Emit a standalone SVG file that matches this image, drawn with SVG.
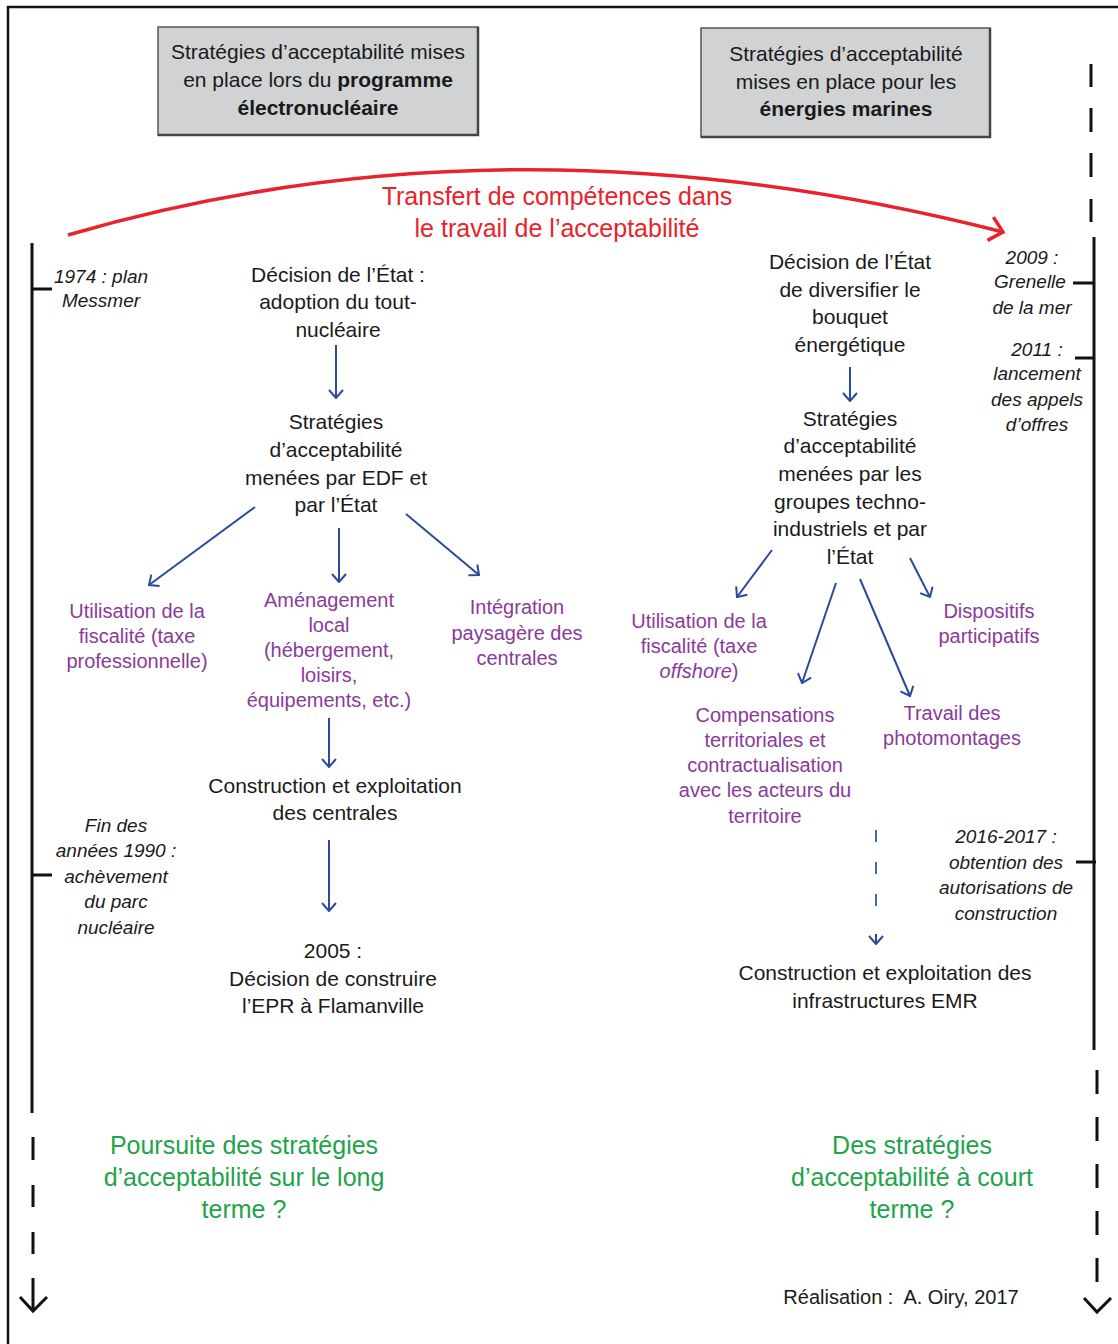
<svg xmlns="http://www.w3.org/2000/svg" width="1118" height="1344" viewBox="0 0 1118 1344">
<defs>
<style>
text{font-family:"Liberation Sans",Arial,sans-serif;text-anchor:middle}
.bx{font-size:21px;fill:#1a1a1a}
.b{font-weight:bold}
.k{font-size:21px;fill:#1a1a1a}
.p{font-size:20px;fill:#8a3a9a}
.g{font-size:25px;fill:#22a34b}
.r{font-size:25px;fill:#e8232b}
.i{font-size:19px;font-style:italic;fill:#1a1a1a}
.bl{stroke:#2b4a9b;stroke-width:2;fill:none;marker-end:url(#ab)}
.tl{stroke:#111;stroke-width:3;fill:none}
</style>
<marker id="ab" viewBox="0 0 10 16" refX="9" refY="8" markerWidth="10" markerHeight="16" markerUnits="userSpaceOnUse" orient="auto"><path d="M1,1 L9,8 L1,15" fill="none" stroke="#2b4a9b" stroke-width="2"/></marker>
<marker id="ar" viewBox="0 0 16 26" refX="14" refY="13" markerWidth="16" markerHeight="26" markerUnits="userSpaceOnUse" orient="auto"><path d="M1,1 L14,13 L1,25" fill="none" stroke="#e8232b" stroke-width="3.5"/></marker>
</defs>
<rect x="0" y="0" width="1118" height="1344" fill="#fff"/>
<rect x="8" y="7" width="1130" height="1360" fill="none" stroke="#111" stroke-width="2.5"/>

<g id="box-left">
<rect x="158" y="27" width="320" height="108" fill="#d1d2d4" stroke="#555" stroke-width="1.5"/>
<path d="M158,135H478V27" fill="none" stroke="#444" stroke-width="2.5"/>
<text class="bx" x="318" y="59">Stratégies d’acceptabilité mises</text>
<text class="bx" x="318" y="87">en place lors du <tspan class="b">programme</tspan></text>
<text class="bx b" x="318" y="115">électronucléaire</text>
</g>
<g id="box-right">
<rect x="701" y="28" width="289" height="109" fill="#d1d2d4" stroke="#555" stroke-width="1.5"/>
<path d="M701,137H990V28" fill="none" stroke="#444" stroke-width="2.5"/>
<text class="bx" x="846" y="61">Stratégies d’acceptabilité</text>
<text class="bx" x="846" y="89">mises en place pour les</text>
<text class="bx b" x="846" y="116">énergies marines</text>
</g>

<g id="transfer">
<path d="M68,235 Q510,106 1003,232" fill="none" stroke="#e8232b" stroke-width="3.5" marker-end="url(#ar)"/>
<text class="r" x="557" y="205">Transfert de compétences dans</text>
<text class="r" x="557" y="237">le travail de l’acceptabilité</text>
</g>

<g id="timeline-left">
<line class="tl" x1="32" y1="243" x2="32" y2="1113"/>
<path class="tl" d="M33,1137V1160M33,1185V1207M33,1232V1254M33,1278V1310"/>
<polyline class="tl" points="20,1297 33,1311 47,1297"/>
<line class="tl" x1="32" y1="289" x2="52" y2="289" stroke-width="2"/>
<line class="tl" x1="32" y1="875" x2="52" y2="875" stroke-width="2"/>
<text class="i" x="101" y="283">1974 : plan</text>
<text class="i" x="101" y="307">Messmer</text>
<text class="i" x="116" y="832">Fin des</text>
<text class="i" x="116" y="857">années 1990 :</text>
<text class="i" x="116" y="883">achèvement</text>
<text class="i" x="116" y="908">du parc</text>
<text class="i" x="116" y="934">nucléaire</text>
</g>

<g id="timeline-right">
<path class="tl" d="M1091,64V87M1091,108V132M1091,153V177M1091,199V222"/>
<line class="tl" x1="1094" y1="237" x2="1094" y2="1050"/>
<path class="tl" d="M1097,1070V1094M1097,1117V1141M1097,1164V1188M1097,1211V1235M1097,1258V1282"/>
<polyline class="tl" points="1084,1298 1097,1312 1111,1298"/>
<line class="tl" x1="1073" y1="283" x2="1094" y2="283" stroke-width="2"/>
<line class="tl" x1="1075" y1="358" x2="1094" y2="358" stroke-width="2"/>
<line class="tl" x1="1076" y1="862" x2="1096" y2="862" stroke-width="2"/>
<text class="i" x="1032" y="264">2009 :</text>
<text class="i" x="1030" y="288">Grenelle</text>
<text class="i" x="1032" y="314">de la mer</text>
<text class="i" x="1037" y="356">2011 :</text>
<text class="i" x="1037" y="380">lancement</text>
<text class="i" x="1037" y="406">des appels</text>
<text class="i" x="1037" y="431">d’offres</text>
<text class="i" x="1006" y="843">2016-2017 :</text>
<text class="i" x="1006" y="869">obtention des</text>
<text class="i" x="1006" y="894">autorisations de</text>
<text class="i" x="1006" y="920">construction</text>
</g>

<g id="n-decision-left">
<text class="k" x="338" y="282">Décision de l’État :</text>
<text class="k" x="338" y="309">adoption du tout-</text>
<text class="k" x="338" y="337">nucléaire</text>
</g>
<g id="n-strat-left">
<text class="k" x="336" y="429">Stratégies</text>
<text class="k" x="336" y="457">d’acceptabilité</text>
<text class="k" x="336" y="485">menées par EDF et</text>
<text class="k" x="336" y="512">par l’État</text>
</g>
<g id="n-fisc-left">
<text class="p" x="137" y="618">Utilisation de la</text>
<text class="p" x="137" y="643">fiscalité (taxe</text>
<text class="p" x="137" y="668">professionnelle)</text>
</g>
<g id="n-amenagement">
<text class="p" x="329" y="607">Aménagement</text>
<text class="p" x="329" y="632">local</text>
<text class="p" x="329" y="657">(hébergement,</text>
<text class="p" x="329" y="682">loisirs,</text>
<text class="p" x="329" y="707">équipements, etc.)</text>
</g>
<g id="n-integration">
<text class="p" x="517" y="614">Intégration</text>
<text class="p" x="517" y="640">paysagère des</text>
<text class="p" x="517" y="665">centrales</text>
</g>
<g id="n-construction-left">
<text class="k" x="335" y="793">Construction et exploitation</text>
<text class="k" x="335" y="820">des centrales</text>
</g>
<g id="n-2005">
<text class="k" x="333" y="958">2005 :</text>
<text class="k" x="333" y="986">Décision de construire</text>
<text class="k" x="333" y="1013">l’EPR à Flamanville</text>
</g>
<g id="n-long-terme">
<text class="g" x="244" y="1154">Poursuite des stratégies</text>
<text class="g" x="244" y="1186">d’acceptabilité sur le long</text>
<text class="g" x="244" y="1218">terme ?</text>
</g>

<g id="n-decision-right">
<text class="k" x="850" y="269">Décision de l’État</text>
<text class="k" x="850" y="297">de diversifier le</text>
<text class="k" x="850" y="324">bouquet</text>
<text class="k" x="850" y="352">énergétique</text>
</g>
<g id="n-strat-right">
<text class="k" x="850" y="426">Stratégies</text>
<text class="k" x="850" y="453">d’acceptabilité</text>
<text class="k" x="850" y="481">menées par les</text>
<text class="k" x="850" y="509">groupes techno-</text>
<text class="k" x="850" y="536">industriels et par</text>
<text class="k" x="850" y="564">l’État</text>
</g>
<g id="n-fisc-right">
<text class="p" x="699" y="628">Utilisation de la</text>
<text class="p" x="699" y="653">fiscalité (taxe</text>
<text class="p" x="699" y="678"><tspan font-style="italic">offshore</tspan>)</text>
</g>
<g id="n-dispositifs">
<text class="p" x="989" y="618">Dispositifs</text>
<text class="p" x="989" y="643">participatifs</text>
</g>
<g id="n-compensations">
<text class="p" x="765" y="722">Compensations</text>
<text class="p" x="765" y="747">territoriales et</text>
<text class="p" x="765" y="772">contractualisation</text>
<text class="p" x="765" y="797">avec les acteurs du</text>
<text class="p" x="765" y="823">territoire</text>
</g>
<g id="n-photomontages">
<text class="p" x="952" y="720">Travail des</text>
<text class="p" x="952" y="745">photomontages</text>
</g>
<g id="n-construction-right">
<text class="k" x="885" y="980">Construction et exploitation des</text>
<text class="k" x="885" y="1008">infrastructures EMR</text>
</g>
<g id="n-court-terme">
<text class="g" x="912" y="1154">Des stratégies</text>
<text class="g" x="912" y="1186">d’acceptabilité à court</text>
<text class="g" x="912" y="1218">terme ?</text>
</g>
<g id="credit">
<text x="901" y="1304" style="font-size:20px;fill:#1a1a1a">Réalisation :&#160; A. Oiry, 2017</text>
</g>

<g id="connectors">
<line class="bl" x1="336" y1="345" x2="336" y2="398"/>
<line class="bl" x1="255" y1="507" x2="149" y2="585"/>
<line class="bl" x1="339" y1="528" x2="339" y2="582"/>
<line class="bl" x1="406" y1="514" x2="479" y2="575"/>
<line class="bl" x1="329" y1="718" x2="329" y2="767"/>
<line class="bl" x1="329" y1="840" x2="329" y2="911"/>
<line class="bl" x1="850" y1="367" x2="850" y2="401"/>
<line class="bl" x1="772" y1="550" x2="737" y2="597"/>
<line class="bl" x1="836" y1="583" x2="802" y2="683"/>
<line class="bl" x1="860" y1="579" x2="910" y2="696"/>
<line class="bl" x1="910" y1="558" x2="930" y2="597"/>
<line x1="876" y1="830" x2="876" y2="916" stroke="#4a6ab8" stroke-width="2" stroke-dasharray="12,20"/>
<line class="bl" x1="876" y1="934" x2="876" y2="944"/>
</g>
</svg>
